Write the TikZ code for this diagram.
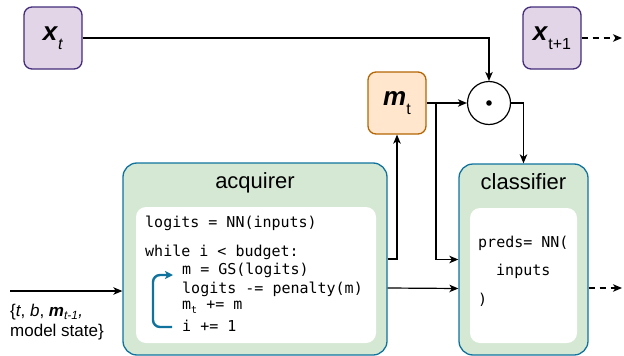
\documentclass[tikz,border=0pt]{standalone}
\usepackage{fontspec}
\setmainfont{Liberation Sans}
\setmonofont{DejaVu Sans Mono}
\usetikzlibrary{arrows.meta,positioning,calc}
\definecolor{modfill}{HTML}{D5E8D4}
\definecolor{modteal}{HTML}{10739E}
\definecolor{tokfill}{HTML}{E1D5E7}
\definecolor{tokborder}{HTML}{432D7B}
\definecolor{maskfill}{HTML}{FFE6CC}
\definecolor{maskborder}{HTML}{B46504}

\newcommand{\lowsub}[1]{\raisebox{-0.33em}{\fontsize{16}{16}\selectfont #1}}

\begin{document}
\begin{tikzpicture}[
    x=1pt,y=-1pt,
    >={Stealth[length=9pt,width=7.5pt,inset=2.5pt]},
    token/.style={
        draw=tokborder,
        fill=tokfill,
        rounded corners=8pt,
        minimum width=58pt,
        minimum height=62pt,
        inner sep=0pt,
        line width=1.3pt,
        font=\fontsize{26}{26}\selectfont
    },
    mask/.style={token,draw=maskborder,fill=maskfill},
    module/.style={
        draw=modteal,
        fill=modfill,
        rounded corners=14pt,
        line width=1.3pt
    },
    codebox/.style={fill=white,rounded corners=10pt},
    title/.style={font=\fontsize{22}{22}\selectfont},
    code/.style={anchor=west,inner sep=0pt,font=\ttfamily\fontsize{15}{15}\selectfont},
    flow/.style={->,line width=1.2pt},
    dashflow/.style={flow,dash pattern=on 6pt off 5pt},
    iterarrow/.style={-{Stealth[length=8pt,width=8pt,inset=2pt]},line width=2.4pt,modteal,rounded corners=7pt}
]
\useasboundingbox (0,0) rectangle (624,356);

% Input tokens and mask
\node[token] (xt) at (53,38) {\textbf{\textit{x}}\lowsub{\textit{t}}};
\node[token] (xt1) at (552,38) {\textbf{\textit{x}}\lowsub{t+1}};
\node[mask] (mt) at (397,103) {\textbf{\textit{m}}\lowsub{t}};

% Element-wise product
\node[draw,circle,minimum size=43pt,inner sep=0pt,line width=1.2pt] (dot) at (489,103) {};
\fill (dot.center) circle (2.8pt);

% Acquirer
\node[module,minimum width=264pt,minimum height=192pt] (acquirer) at (255,259) {};
\node[title] (acqtitle) at (255,183) {acquirer};
\node[codebox,minimum width=240pt,minimum height=136pt] (acqcode) at (256,275) {};
\node[code] (c1) at (145,223) {logits = NN(inputs)};
\node[code] (c2) at (145,252) {while i < budget:};
\node[code] (c3) at (182,270) {m = GS(logits)};
\node[code] (c4) at (182,289) {logits -= penalty(m)};
\node[code] (c5) at (182,307) {m\raisebox{-4pt}{\fontsize{10}{10}\selectfont t} += m};
\node[code] (c6) at (182,326) {i += 1};

% Loop inside the acquirer
\coordinate (loopstart) at (172,327);
\coordinate (loopend) at (173,275);
\draw[iterarrow] (loopstart) -- ++(-19,0) -- ++(0,-52) -- (loopend);

% Classifier
\node[module,minimum width=129pt,minimum height=191pt] (classifier) at (523.5,259.5) {};
\node[title] (clstitle) at (523.5,182) {classifier};
\node[codebox,minimum width=107pt,minimum height=135pt] (clscode) at (523.5,275.5) {};
\node[code] (p1) at (478,243) {preds= NN(};
\node[code] (p2) at (496,271) {inputs};
\node[code] (p3) at (478,300) {)};

% State input
\coordinate (statein) at (10,291);
\node[anchor=north west,align=left,inner sep=0pt,font=\fontsize{17}{20}\selectfont] (statelabel) at (10,304)
    {\{\textit{t}, \textit{b}, \textbf{\textit{m}}\textsubscript{\textit{t-1}}\textit{,}\\model state\}};

% Connections
\draw[flow] (statein) -- (statein -| acquirer.west);
\draw[flow] (xt.east) -| (dot.north);
\draw[flow] (mt.east) -- (dot.west);
\coordinate (split) at (436,103);
\draw[flow] (split) |- (classifier.west);
\draw[flow] (dot.east) -| (classifier.north);
\draw[flow] (acquirer.east) -| (mt.south);
\draw[flow] ([yshift=-29pt]acquirer.east) -- ([yshift=-29pt]classifier.west);

% Outputs
\coordinate (nextx) at (622,38);
\draw[dashflow] (xt1.east) -- (nextx);
\coordinate (preds) at (622,288);
\draw[dashflow] (preds -| classifier.east) -- (preds);

\end{tikzpicture}
\end{document}
